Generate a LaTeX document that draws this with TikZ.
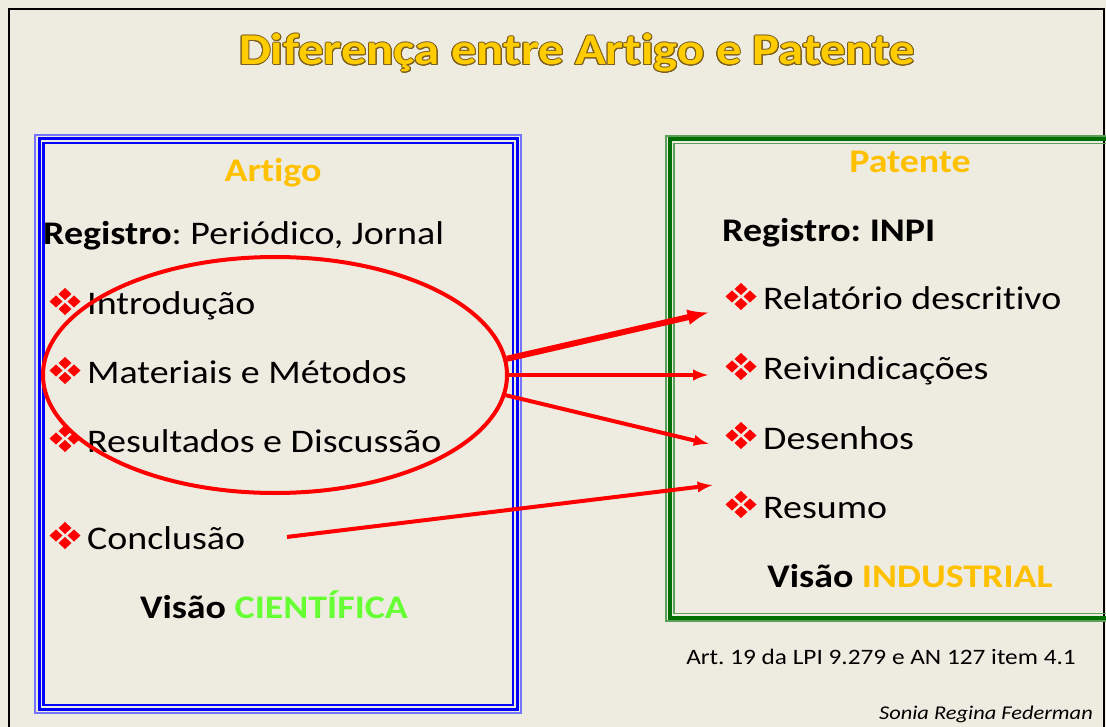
\documentclass[tikz,border=0pt]{standalone}
\usepackage{fontspec}
\setmainfont[FakeStretch=1.15]{Carlito}
\usepackage{contour}
\usetikzlibrary{shapes.geometric}
\definecolor{slidebg}{RGB}{238,236,225}
\definecolor{gold}{RGB}{255,192,0}
\definecolor{titlegold}{RGB}{255,204,0}
\definecolor{titleedge}{RGB}{125,95,30}
\definecolor{scigreen}{RGB}{102,255,51}
\definecolor{darkgreen}{RGB}{0,110,0}
\definecolor{lightgreen}{RGB}{90,160,90}
\tikzset{
  >=latex,
  clover/.pic={
    \foreach \dx/\dy in {9/0,-9/0,0/7.5,0/-7.5}
      \fill[red] (\dx,\dy) ++(0,-6)--++(6.5,6)--++(-6.5,6)--++(-6.5,-6)--cycle;
  },
}
\tikzstyle{link}=[red,line width=4pt,->]
\tikzstyle{item}=[anchor=base west,inner sep=0pt,font=\fontsize{33}{36}\selectfont]
\tikzstyle{heading}=[anchor=base,inner sep=0pt,font=\fontsize{33}{36}\selectfont\bfseries,text=gold]
\tikzstyle{vision}=[anchor=base,inner sep=0pt,font=\fontsize{33}{36}\selectfont\bfseries]
\contourlength{1pt}
\frenchspacing

\begin{document}
\begin{tikzpicture}[x=1pt,y=-1pt]
    \useasboundingbox (0,0) rectangle (1106,727);
    \fill[slidebg] (0,0) rectangle (1106,727);
    \draw[line width=2.5pt] (9,740)--(9,9)--(1104,9)--(1104,740);
    \node[anchor=base,inner sep=0pt,font=\fontsize{44}{48}\selectfont\bfseries] (title) at (577,65)
    {\contour{titleedge}{\textcolor{titlegold}{Diferença entre Art\kern0pt igo e Patente}}};

    % Artigo
    \draw[blue!55,line width=1.5pt] (35,135) rectangle (521,713);
    \draw[blue,line width=3pt] (39,138.5) rectangle (517.5,709.5);
    \draw[blue,line width=2.5pt] (43.5,143) rectangle (513,705);
    \node[heading] (artigo) at (273,182) {Art\kern0pt igo};
    \node[item] (regart) at (43,245) {\textbf{Registro}: Periódico, Jornal};
    \node[item] (intro) at (87,315) {Introdução};
    \node[item] (metodos) at (87,384) {Materiais e Métodos};
    \node[item] (result) at (87,452) {Resultados e Discussão};
    \node[item] (concl) at (87,549) {Conclusão};
    \node[vision] (visart) at (274,618) {Visão \textcolor{scigreen}{CIENTÍFICA}};

    % Patente
    \draw[lightgreen,line width=1.5pt] (666,136) rectangle (1112,621);
    \draw[darkgreen,line width=4pt] (670,139.5) rectangle (1112,617.5);
    \draw[lightgreen,line width=1.5pt] (674,143.5) rectangle (1112,613.5);
    \node[heading] (patente) at (910,173) {Patente};
    \node[item,font=\fontsize{33}{36}\selectfont\bfseries] (regpat) at (722,242) {Registro: INPI};
    \node[item] (relat) at (763,310) {Relatório descrit\kern0pt ivo};
    \node[item] (reiv) at (763,380) {Reivindicações};
    \node[item] (desen) at (763,449) {Desenhos};
    \node[item] (resumo) at (763,518) {Resumo};
    \node[vision] (visind) at (910,587) {Visão \textcolor{gold}{INDUSTRIAL}};

    \foreach \n in {intro,metodos,result,concl,relat,reiv,desen,resumo}
      \pic at ([xshift=-22pt,yshift=13.5pt]\n.base west) {clover};

    \node[anchor=base,inner sep=0pt,font=\fontsize{22}{24}\selectfont] (lpi) at (881,664)
    {Art. 19 da LPI 9.279 e AN 127 item 4.1};
    \node[anchor=base east,inner sep=0pt,font=\fontsize{19.5}{22}\selectfont\itshape] (autor) at (1093,719)
    {Sonia Regina Federman};

    \node[ellipse,draw=red,line width=4pt,minimum width=464pt,minimum height=236pt]
    (oval) at (275,375) {};

    \draw[link,line width=6pt,shorten >=56pt] (oval.4)--([yshift=10pt]relat.base west);
    \draw[link,shorten >=55pt] (oval.east)--(oval.east -| reiv.base west);
    \draw[link,shorten >=56pt] (oval.-5)--([yshift=-8pt]desen.base west);
    \draw[link,shorten <=42pt,shorten >=51pt] ([yshift=7pt]concl.base east)--([yshift=39pt]resumo.base west);
\end{tikzpicture}
\end{document}
